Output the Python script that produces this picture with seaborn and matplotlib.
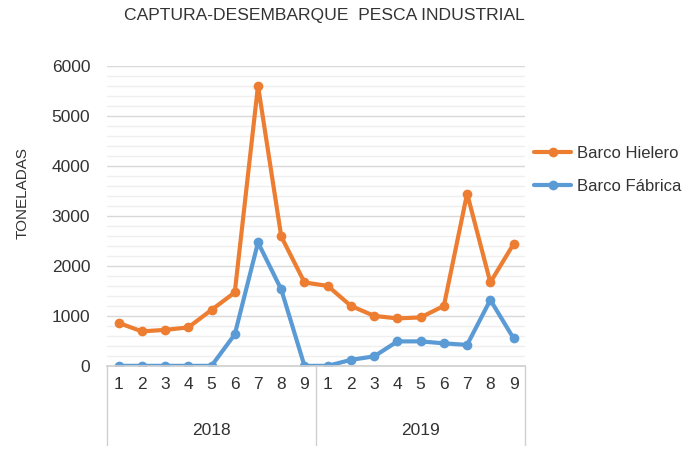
import numpy as np
import pandas as pd
import seaborn as sns
import matplotlib.pyplot as plt

# === Dati ===
years = ["2018", "2019"]
months = [1, 2, 3, 4, 5, 6, 7, 8, 9]
hielero = [860, 690, 720, 770, 1120, 1470, 5610, 2590, 1670,
           1600, 1200, 1000, 950, 970, 1200, 3450, 1670, 2440]
fabrica = [0, 0, 0, 0, 0, 630, 2470, 1530, 0,
           0, 120, 190, 490, 490, 450, 420, 1320, 550]

n = len(months) * len(years)
df = pd.DataFrame({
    "idx": list(range(n)) * 2,
    "ton": hielero + fabrica,
    "serie": ["Barco Hielero"] * n + ["Barco Fábrica"] * n,
})

sns.set_theme(style="white")
plt.rcParams["font.family"] = ["Liberation Sans", "DejaVu Sans"]
txt = "#333333"

fig = plt.figure(figsize=(6.97, 4.5), dpi=100)
ax = fig.add_axes([0.1535, 0.187, 0.6, 0.666])

sns.lineplot(data=df, x="idx", y="ton", hue="serie",
             palette={"Barco Hielero": "#ED7D31", "Barco Fábrica": "#5B9BD5"},
             marker="o", markersize=7, markeredgewidth=0, linewidth=3, ax=ax)

ax.set_xlim(-0.5, n - 0.5)
ax.set_ylim(0, 6000)
ax.set_yticks(range(0, 6001, 1000))
ax.set_yticks(range(0, 6001, 200), minor=True)
ax.grid(axis="y", which="major", color="#D9D9D9", linewidth=1)
ax.grid(axis="y", which="minor", color="#EFEFEF", linewidth=1)
ax.set_axisbelow(True)

ax.set_xticks(range(n))
ax.set_xticklabels([str(m) for m in months] * len(years))
ax.tick_params(axis="x", length=0, pad=8, labelsize=12.5, labelcolor=txt)
ax.tick_params(axis="y", length=0, pad=12, labelsize=12.5, labelcolor=txt)

for s in ["top", "right", "left"]:
    ax.spines[s].set_visible(False)
ax.spines["bottom"].set_color("#D0D0D0")

# etichette anno e separatori
tr = ax.get_xaxis_transform()
for i, yr in enumerate(years):
    c = i * len(months) + (len(months) - 1) / 2
    ax.text(c, -0.215, yr, transform=tr, ha="center", va="center",
            fontsize=12.5, color=txt)
for b in range(len(years) + 1):
    xb = b * len(months) - 0.5
    ax.plot([xb, xb], [0, -0.265], transform=tr, color="#D0D0D0",
            linewidth=1, clip_on=False)

ax.set_xlabel("")
ax.set_ylabel("TONELADAS", fontsize=11, color=txt)
ax.yaxis.set_label_coords(-0.185, 0.577)

fig.text(0.466, 0.965, "CAPTURA-DESEMBARQUE  PESCA INDUSTRIAL",
         ha="center", va="center", fontsize=12.6, color=txt)

leg = ax.legend(loc="upper left", bbox_to_anchor=(0.757, 0.69),
                bbox_transform=fig.transFigure, frameon=False,
                fontsize=12, handlelength=2.2, handletextpad=0.35,
                labelspacing=1.05, borderaxespad=0)
for t in leg.get_texts():
    t.set_color(txt)

plt.savefig("out.png", dpi=100)
